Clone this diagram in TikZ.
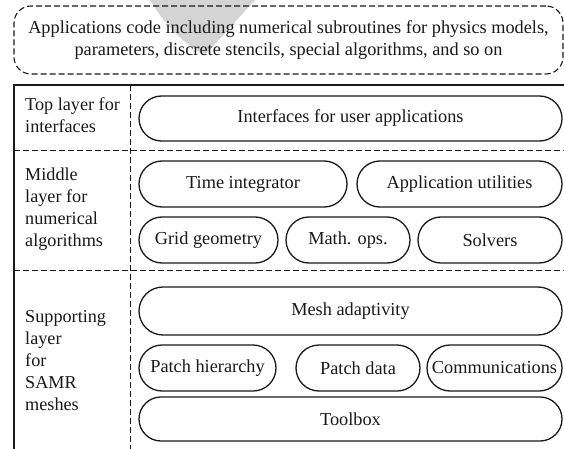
\documentclass[tikz,border=0pt]{standalone}
\usepackage{fontspec}
\setmainfont{Liberation Serif}
\usetikzlibrary{shapes.misc}

\tikzset{
  x=1pt, y=-1pt,
  pill/.style={draw=black!90, line width=1.3pt, rounded rectangle, inner sep=0pt,
    font=\fontsize{18.3}{21}\selectfont, text=black!90},
  layertext/.style={anchor=north west, align=left, inner sep=0pt,
    font=\fontsize{18.2}{22}\selectfont, text=black!90},
  sepline/.style={dashed, dash pattern=on 6pt off 3pt, line width=0.9pt, draw=black!90},
  frameline/.style={line width=1.6pt, draw=black!90}
}

\begin{document}
\begin{tikzpicture}
  \useasboundingbox (0,0) rectangle (564,449);
  \fill[white] (0,0) rectangle (564,449);

  % faint wedge in the background
  \fill[black!17] (150,0) .. controls (165,25) and (185,45) .. (205,55) -- (255,0) -- cycle;

  % application code box
  \node[draw=black!90, dashed, dash pattern=on 6pt off 3pt, line width=1.1pt,
        rounded corners=17pt, minimum width=549pt, minimum height=68pt,
        align=center, font=\fontsize{18.3}{22}\selectfont, text=black!90]
    (app) at (288.5,40) {Applications code including numerical subroutines for physics models,\\
      parameters, discrete stencils, special algorithms, and so on};

  % frame of the layer table
  \coordinate (tl) at (14,85);
  \coordinate (tr) at (566,85);
  \coordinate (bl) at (14,452);
  \draw[frameline] (tr) -- (tl) -- (bl);

  % separators
  \coordinate (vtop) at (130,85);
  \coordinate (vbot) at (130,452);
  \draw[sepline] (vtop) -- (vbot);
  \coordinate (h1l) at (14,150);
  \coordinate (h1r) at (566,150);
  \coordinate (h2l) at (14,270);
  \coordinate (h2r) at (566,270);
  \draw[sepline] (h1l) -- (h1r);
  \draw[sepline] (h2l) -- (h2r);

  % layer labels
  \node[layertext] (ltop) at (25,97) {Top layer for\\interfaces};
  \node[layertext] (lmid) at (25,168) {Middle\\layer for\\numerical\\algorithms};
  \node[layertext] (lsup) at (25,310) {Supporting\\layer\\for\\SAMR\\meshes};

  % top layer
  \node[pill, minimum width=423pt, minimum height=45pt] (ui) at (350.5,118.5) {Interfaces for user applications};

  % middle layer
  \node[pill, minimum width=208pt, minimum height=46pt] (ti) at (243,184) {Time integrator};
  \node[pill, minimum width=205pt, minimum height=46pt] (au) at (459.5,184) {Application utilities};
  \node[pill, minimum width=139pt, minimum height=46pt] (gg) at (208.5,240) {Grid geometry};
  \node[pill, minimum width=124pt, minimum height=46pt] (mo) at (348,240) {Math. ops.};
  \node[pill, minimum width=144pt, minimum height=46pt] (so) at (490,240) {Solvers};

  % supporting layer
  \node[pill, minimum width=423pt, minimum height=48pt] (ma) at (350.5,311) {Mesh adaptivity};
  \node[pill, minimum width=137pt, minimum height=46pt] (ph) at (207.5,368) {Patch hierarchy};
  \node[pill, minimum width=124pt, minimum height=46pt] (pd) at (358,368) {Patch data};
  \node[pill, minimum width=135pt, minimum height=46pt] (co) at (494.5,368) {Communications};
  \node[pill, minimum width=423pt, minimum height=44pt] (tb) at (350.5,419) {Toolbox};
\end{tikzpicture}
\end{document}
